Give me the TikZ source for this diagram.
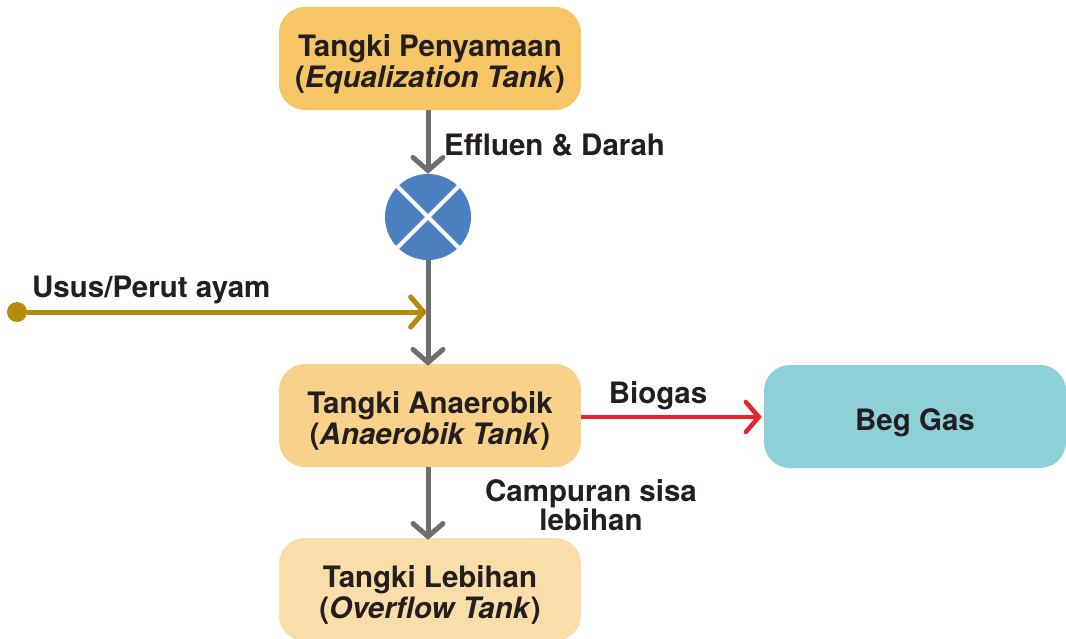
\documentclass[tikz,border=0pt]{standalone}
\usepackage{fontspec}
\setmainfont{TeX Gyre Heros}
\usetikzlibrary{arrows.meta}
\definecolor{txt}{HTML}{231F20}
\definecolor{eqc}{HTML}{F5C566}
\definecolor{anc}{HTML}{F8D28A}
\definecolor{ovc}{HTML}{F9DEAA}
\definecolor{bgc}{HTML}{8DD0D8}
\definecolor{mixc}{HTML}{4A7FC0}
\definecolor{flowc}{HTML}{6D6E71}
\definecolor{goldc}{HTML}{B58A0A}
\definecolor{redc}{HTML}{E8232A}
\newcommand{\tanktext}[1]{\raisebox{-7pt}[\height][\depth]{\begin{tabular}{@{}c@{}}#1\end{tabular}}}
\tikzset{
  tank/.style={rounded corners=26pt, minimum width=302pt, minimum height=103pt, inner sep=0pt, align=center, text=txt, font=\fontsize{29.5}{29}\selectfont\bfseries},
  lbl/.style={text=txt, font=\fontsize{29.5}{28.5}\selectfont\bfseries, inner sep=0pt, align=center},
  flow/.style={line width=5pt, -{Straight Barb[length=13pt,width=30pt,line cap=round]}},
}
\begin{document}
\begin{tikzpicture}[x=1pt,y=-1pt]
\clip (0,0) rectangle (1066,638);
\fill[white] (0,0) rectangle (1066,638);
\node[tank, fill=eqc] (eq) at (430,58.5) {\tanktext{Tangki Penyamaan\\(\textit{Equalization Tank})}};
\node[tank, fill=anc] (an) at (430,415.5) {\tanktext{Tangki Anaerobik\\(\textit{Anaerobik Tank})}};
\node[tank, fill=ovc] (ov) at (430,589.5) {\tanktext{Tangki Lebihan\\(\textit{Overflow Tank})}};
\node[tank, fill=bgc] (bg) at (915,416.5) {\tanktext{Beg Gas}};
\node[circle, fill=mixc, minimum size=86pt, inner sep=0pt] (mx) at (428,217) {};
\draw[white, line width=4pt] (mx.45) -- (mx.225) (mx.135) -- (mx.-45);
\node[circle, fill=goldc, minimum size=20pt, inner sep=0pt] (src) at (17,312) {};
\coordinate (join) at (427,312);
\draw[flow, draw=flowc] (eq.south -| mx) -- (mx.north);
\draw[flow, draw=flowc] (mx.south) -- ([yshift=-2pt]an.north -| mx);
\draw[flow, draw=goldc] (src) -- (join);
\draw[flow, draw=redc, line width=4.5pt] (an.east |- 0,417) -- ([xshift=-2pt]bg.west |- 0,417);
\draw[flow, draw=flowc] (an.south -| mx) -- ([yshift=-2pt]ov.north -| mx);
\node[lbl, anchor=west] (l1) at (444,145) {Effluen \& Darah};
\node[lbl, anchor=west] (l2) at (32,290) {Usus/Perut ayam};
\node[lbl] (l3) at (658,396) {Biogas};
\node[lbl] (l4) at (591,505) {Campuran sisa\\lebihan};
\end{tikzpicture}
\end{document}
